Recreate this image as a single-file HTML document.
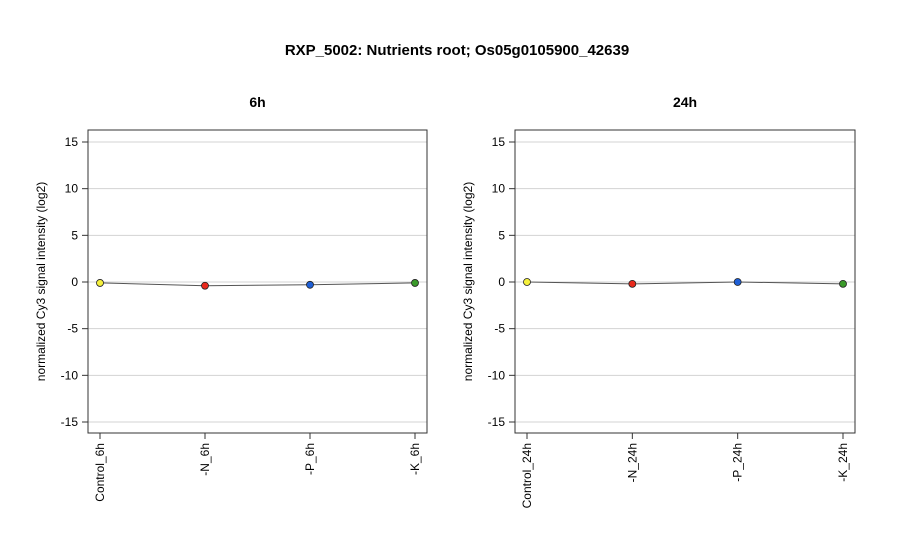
<!DOCTYPE html>
<html><head><meta charset="utf-8"><style>
body{margin:0;background:#fff;font-family:"Liberation Sans",Arial,sans-serif}
</style></head><body>
<svg id="chart" width="900" height="550" xmlns="http://www.w3.org/2000/svg" font-family="Liberation Sans, Arial, sans-serif">
<text x="457" y="55" text-anchor="middle" font-weight="bold" font-size="15">RXP_5002: Nutrients root; Os05g0105900_42639</text>
<g id="panels"></g>
</svg>
<script>
const panelTitles = ["6h", "24h"];
const categoriesA = ["Control_6h", "-N_6h", "-P_6h", "-K_6h"];
const categoriesB = ["Control_24h", "-N_24h", "-P_24h", "-K_24h"];
const valuesA = [-0.1, -0.4, -0.3, -0.1];
const valuesB = [0.0, -0.2, 0.0, -0.2];
const yTicks = [-15, -10, -5, 0, 5, 10, 15];
const colors = ["#f5f03c", "#e8291c", "#1e5fd6", "#3a9a2a"];

const NS = "http://www.w3.org/2000/svg";
const root = document.getElementById("panels");
function mk(tag, attrs, parent) {
  const e = document.createElementNS(NS, tag);
  for (const k in attrs) e.setAttribute(k, attrs[k]);
  (parent || root).appendChild(e);
  return e;
}
const panels = [
  {x0: 88, x1: 427, cats: categoriesA, vals: valuesA, title: panelTitles[0]},
  {x0: 515, x1: 855, cats: categoriesB, vals: valuesB, title: panelTitles[1]}
];
const yTop = 130, yBot = 433;
function yScale(v) { return 282 - v * (140 / 15); }
panels.forEach((p, pi) => {
  const g = mk("g", {});
  
  
  const xScale = i => p.x0 + 12 + i * ((p.x1 - p.x0 - 24) / (p.cats.length - 1));
  yTicks.forEach(t => {
    const gl = mk("line", {x1: p.x0, x2: p.x1, y1: yScale(t), y2: yScale(t), stroke: "#d3d3d3", "stroke-width": 1}, g);
    
    
    mk("line", {x1: p.x0 - 6, x2: p.x0, y1: yScale(t), y2: yScale(t), stroke: "#333"}, g);
    const tl = mk("text", {x: p.x0 - 10, y: yScale(t) + 4, "text-anchor": "end", "font-size": 12}, g);
    tl.textContent = t;
    
    
  });
  const box = mk("rect", {x: p.x0, y: yTop, width: p.x1 - p.x0, height: yBot - yTop, fill: "none", stroke: "#333"}, g);
  
  
  const tt = mk("text", {x: (p.x0 + p.x1) / 2, y: 107, "text-anchor": "middle", "font-weight": "bold", "font-size": 14}, g);
  tt.textContent = p.title;
  
  
  const yt = mk("text", {transform: `translate(${p.x0 - 43},${(yTop + yBot) / 2}) rotate(-90)`, "text-anchor": "middle", "font-size": 12}, g);
  yt.textContent = "normalized Cy3 signal intensity (log2)";
  
  
  const pts = p.vals.map((v, i) => xScale(i) + "," + yScale(v)).join(" ");
  const line = mk("polyline", {points: pts, fill: "none", stroke: "#555", "stroke-width": 1}, g);
  
  
  p.cats.forEach((c, i) => {
    const x = xScale(i);
    mk("line", {x1: x, x2: x, y1: yBot, y2: yBot + 6, stroke: "#333"}, g);
    const cl = mk("text", {transform: `translate(${x + 4},${yBot + 10}) rotate(-90)`, "text-anchor": "end", "font-size": 12}, g);
    cl.textContent = c;
    
    
    const pt = mk("circle", {cx: x, cy: yScale(p.vals[i]), r: 3.5, fill: colors[i], stroke: "#222", "stroke-width": 0.8}, g);
    
    
  });
});
</script>
</body></html>
